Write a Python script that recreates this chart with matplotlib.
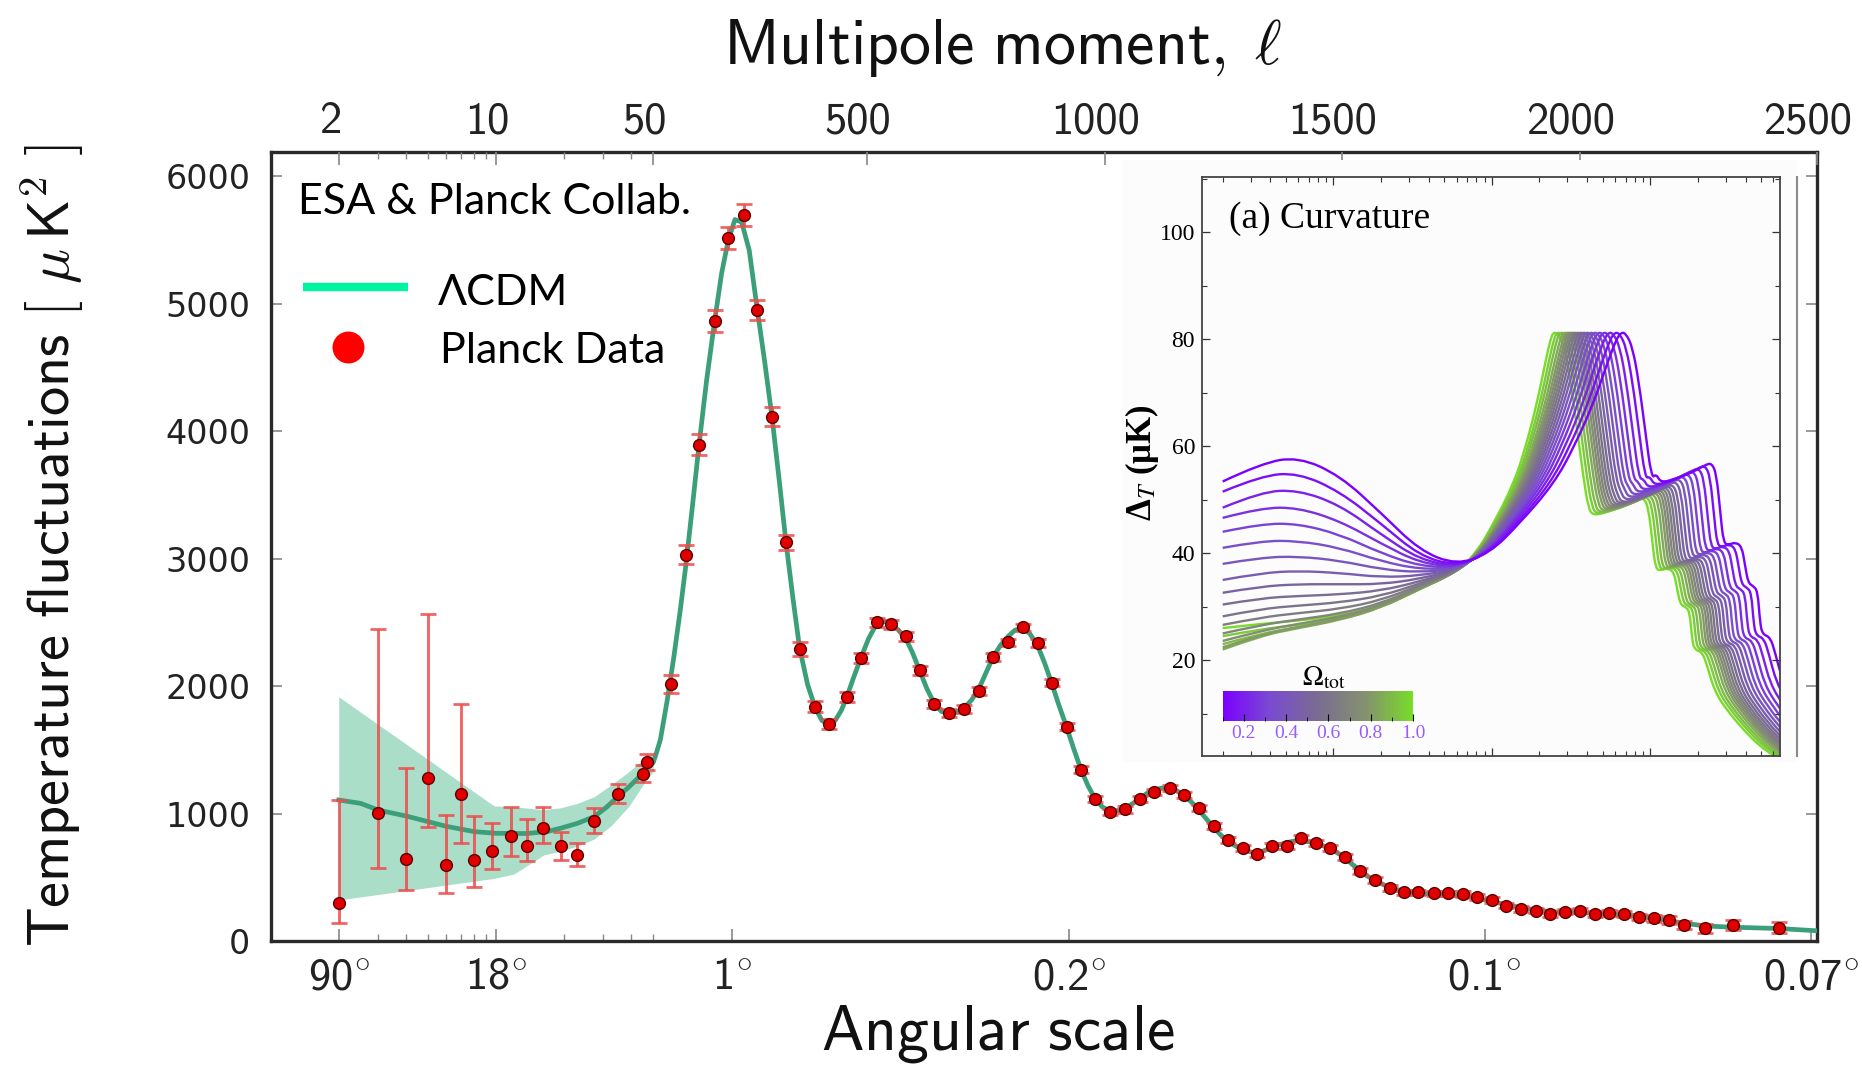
import numpy as np
import matplotlib
matplotlib.use('Agg')
import matplotlib.pyplot as plt
import matplotlib.lines as mlines
import matplotlib.patches as mpatches
from matplotlib.cm import ScalarMappable
from matplotlib.colors import LinearSegmentedColormap, Normalize
from matplotlib.path import Path
from matplotlib.transforms import ScaledTranslation
from matplotlib.ticker import FixedLocator, NullFormatter, MultipleLocator

plt.rcParams['mathtext.fontset'] = 'cm'

# ---------------- Planck TT power spectrum ----------------
planck_ell = [2, 3, 4, 5, 6, 7, 8, 9.6, 11.6, 13.7,
              16.2, 19.4, 22.8, 27.2, 34.8, 44.8, 47.0,
              87, 118, 146, 179, 208, 240, 268, 300, 329, 358,
              391, 419, 458, 487, 520, 550, 582, 611, 642, 673,
              705, 735, 765, 797, 828, 859, 889, 920, 950, 981,
              1012, 1044, 1075, 1105, 1137, 1168, 1198, 1230, 1260, 1291,
              1321, 1353, 1384, 1414, 1446, 1475, 1507, 1538, 1569, 1600,
              1630, 1661, 1693, 1723, 1754, 1784, 1816, 1846, 1877, 1909,
              1938, 1970, 2000, 2032, 2063, 2094, 2126, 2156, 2188, 2219,
              2265, 2323, 2419]
planck_dl = [296, 1004, 642, 1276, 597, 1153, 637, 707, 825, 749,
             886, 749, 671, 938, 1153, 1313, 1402,
             2015, 3030, 3894, 4864, 5514, 5694, 4950, 4113, 3129, 2289,
             1838, 1704, 1916, 2222, 2500, 2484, 2392, 2123, 1859, 1786,
             1817, 1961, 2230, 2343, 2460, 2340, 2026, 1681, 1345, 1114,
             1014, 1033, 1114, 1171, 1202, 1145, 1041, 904, 792, 732,
             685, 747, 747, 805, 771, 727, 661, 551, 478, 418,
             382, 382, 374, 374, 369, 343, 322, 277, 249, 238,
             212, 230, 238, 212, 222, 212, 191, 178, 165, 125,
             100, 128, 104]
# asymmetric errors of the 17 low-multipole points
lowl_err_minus = [155, 433, 241, 385, 217, 385, 210, 143, 162, 120,
                  118, 112, 81, 87, 73, 68, 62]
lowl_err_plus = [807, 1441, 716, 1292, 394, 708, 340, 218, 223, 208,
                 162, 110, 97, 105, 77, 67, 63]
# symmetric errors of the binned high-multipole points
highl_err = [70, 75, 80, 85, 85, 85, 80, 75, 60, 55,
             45, 40, 40, 38, 36, 35, 35, 34, 33, 32,
             31, 30, 30, 30, 30, 30, 29, 28, 27, 26,
             25, 25, 25, 25, 25, 25, 25, 24, 24, 24,
             24, 24, 24, 24, 23, 23, 23, 22, 22, 22,
             22, 22, 22, 22, 22, 22, 22, 22, 22, 22,
             22, 22, 22, 22, 22, 24, 24, 26, 28, 30,
             34, 38, 44]

# best-fit LCDM curve
lcdm_ell = [2, 2.5, 3, 4, 5, 6, 8, 10, 13.7, 17,
            19.4, 23, 27.3, 31, 34.7, 38.5, 42.3, 46, 50, 57,
            65, 79, 93, 107, 119, 133, 146, 162, 179, 194,
            208, 222, 236, 252, 268, 284, 300, 315, 329, 344,
            358, 375, 391, 405, 419, 433, 446, 458, 472, 487,
            503, 519, 535, 550, 566, 582, 596, 611, 626, 642,
            657, 673, 689, 705, 720, 735, 750, 765, 781, 797,
            812, 828, 843, 859, 874, 889, 904, 920, 935, 950,
            965, 981, 996, 1012, 1028, 1044, 1060, 1075, 1090, 1105,
            1121, 1137, 1152, 1168, 1183, 1198, 1214, 1230, 1245, 1260,
            1276, 1291, 1306, 1321, 1337, 1353, 1368, 1384, 1400, 1414,
            1430, 1446, 1460, 1475, 1491, 1507, 1522, 1538, 1553, 1569,
            1600, 1630, 1661, 1693, 1723, 1754, 1784, 1816, 1846, 1877,
            1909, 1938, 1970, 2000, 2032, 2063, 2094, 2126, 2156, 2188,
            2219, 2265, 2323, 2419, 2500]
lcdm_dl = [1106, 1080, 1027, 980, 936, 900, 858, 845, 843, 860,
           885, 923, 975, 1050, 1130, 1200, 1270, 1340, 1400, 1480,
           1580, 1880, 2220, 2600, 2960, 3430, 3880, 4390, 4860, 5240,
           5500, 5660, 5640, 5420, 4980, 4560, 4110, 3620, 3140, 2690,
           2300, 2010, 1830, 1730, 1700, 1730, 1810, 1920, 2070, 2220,
           2370, 2480, 2510, 2490, 2440, 2370, 2260, 2120, 1980, 1860,
           1800, 1785, 1795, 1830, 1890, 1975, 2100, 2225, 2320, 2390,
           2440, 2455, 2410, 2320, 2180, 2020, 1850, 1680, 1510, 1350,
           1220, 1110, 1050, 1020, 1020, 1040, 1080, 1120, 1160, 1185,
           1200, 1200, 1180, 1140, 1090, 1030, 960, 890, 830, 785,
           745, 715, 700, 690, 710, 735, 755, 772, 785, 788,
           778, 765, 748, 722, 690, 652, 600, 555, 510, 475,
           420, 390, 375, 368, 362, 352, 335, 310, 285, 262,
           243, 230, 225, 222, 218, 212, 205, 193, 178, 160,
           140, 118, 108, 98, 80]

# cosmic variance band at low multipoles
band_ell = [2, 9.8, 12, 16.3, 19.4, 23, 27.3, 32.5, 38.9, 46.6, 50]
band_hi = [1916, 1060, 1053, 1030, 1045, 1080, 1132, 1224, 1328, 1445, 1475]
band_lo = [322, 491, 525, 675, 705, 745, 800, 905, 1055, 1265, 1330]

top_ticks = [2, 10, 50, 500, 1000, 1500, 2000, 2500]
log_minor = [3, 4, 5, 6, 7, 8, 9, 20, 30, 40]
angle_pos = [2, 10, 216, 925, 1800, 2488]
angle_txt = ['90', '18', '1', '0.2', '0.1', '0.07']

# ---------------- curvature inset (Delta_T vs l) ----------------
omega_tot = [0.10, 0.15, 0.20, 0.25, 0.30, 0.35, 0.40, 0.45, 0.50, 0.55,
             0.60, 0.65, 0.70, 0.75, 0.80, 0.85, 0.90, 0.95, 1.00]
first_peak_ell = [658, 600, 548, 505, 470, 440, 415, 393, 374, 357,
                  342, 329, 317, 306, 295, 283, 270, 258, 245]
# height of the later acoustic features relative to the flat model
late_scale = [1.13, 1.12, 1.11, 1.10, 1.09, 1.08, 1.07, 1.06, 1.05, 1.045,
              1.04, 1.035, 1.03, 1.025, 1.02, 1.015, 1.01, 1.005, 1.0]
low_ell = [2, 3.5, 6, 11, 20, 35, 60]
low_dt = [
    [53.4, 56.8, 58.0, 54.5, 47.5, 40.5, 37.8],
    [51.5, 54.5, 55.0, 51.5, 45.5, 39.5, 37.6],
    [48.5, 51.5, 51.8, 49.0, 43.5, 38.8, 37.5],
    [46.6, 48.5, 48.5, 46.0, 41.8, 38.2, 37.4],
    [44.0, 45.5, 45.5, 43.5, 40.0, 37.6, 37.3],
    [41.0, 42.3, 42.3, 41.0, 38.5, 37.0, 37.2],
    [38.0, 39.2, 39.4, 38.6, 37.0, 36.4, 37.1],
    [35.0, 36.3, 36.7, 36.3, 35.5, 35.8, 37.0],
    [32.6, 33.8, 34.2, 34.2, 34.2, 35.2, 36.9],
    [30.4, 31.6, 32.0, 32.3, 33.0, 34.7, 36.8],
    [28.2, 29.6, 30.2, 30.8, 32.0, 34.3, 36.7],
    [26.6, 28.0, 28.8, 29.6, 31.2, 34.0, 36.6],
    [25.0, 26.6, 27.6, 28.7, 30.6, 33.7, 36.6],
    [23.6, 25.5, 26.8, 28.1, 30.2, 33.5, 36.5],
    [22.4, 24.8, 26.2, 27.7, 29.9, 33.4, 36.5],
    [22.0, 24.6, 26.0, 27.5, 29.8, 33.3, 36.5],
    [23.0, 25.0, 26.2, 27.6, 29.8, 33.3, 36.5],
    [24.5, 25.8, 26.6, 27.8, 29.9, 33.3, 36.5],
    [26.0, 26.8, 27.4, 28.3, 30.2, 33.5, 36.5],
]
# rise to the first peak, as fraction of the log distance from l=60 to the peak
rise_frac = [0.2, 0.38, 0.59, 0.715, 0.83, 0.92, 0.97, 1.0]
rise_dt = [40.0, 45.5, 53.0, 60.0, 68.0, 76.0, 80.0, 81.3]
# flat-model shape after the first peak, offset in log10(l / l_peak)
tail_offset = [0.03, 0.07, 0.11, 0.15, 0.19, 0.22, 0.25, 0.35, 0.45, 0.53,
               0.57, 0.60, 0.625, 0.645, 0.68, 0.72, 0.76, 0.78, 0.80, 0.83,
               0.86, 0.875, 0.89, 0.94, 0.97, 1.02, 1.10, 1.20, 1.30, 1.40]
tail_dt = [81.0, 78.5, 72.0, 63.0, 54.0, 48.5, 47.0, 47.8, 48.8, 50.0,
           50.3, 48.5, 42.0, 37.0, 36.8, 37.2, 36.5, 33.5, 30.5, 30.0,
           29.2, 24.0, 22.0, 21.5, 19.0, 14.0, 10.5, 7.0, 4.0, 2.0]


# multipole axis: logarithmic below l=50, linear above
SPLIT = 50.0
PER_DECADE = 473.7


def fwd(l):
    l = np.asarray(l, dtype=float)
    return np.where(l > SPLIT, l - SPLIT,
                    PER_DECADE * np.log10(np.clip(l, 1e-6, None) / SPLIT))


def inv(u):
    u = np.asarray(u, dtype=float)
    return np.where(u > 0, u + SPLIT,
                    SPLIT * 10 ** (np.clip(u, None, 0) / PER_DECADE))


def curve_path(x, y):
    # quadratic bezier through the knot midpoints (midpoints taken in log l)
    lx = np.log10(x)
    verts = [(x[0], y[0])]
    codes = [Path.MOVETO]
    for i in range(1, len(x) - 1):
        verts += [(x[i], y[i]),
                  (10 ** ((lx[i] + lx[i + 1]) / 2), (y[i] + y[i + 1]) / 2)]
        codes += [Path.CURVE3, Path.CURVE3]
    verts.append((x[-1], y[-1]))
    codes.append(Path.LINETO)
    return Path(verts, codes)


fig = plt.figure(figsize=(18.62, 10.67), dpi=100)
ax = fig.add_axes([0.14554, 0.11809, 0.83029, 0.73946])
ax.set_xscale('function', functions=(fwd, inv))

ax.fill_between(band_ell, band_lo, band_hi, color='#aadec8', lw=0, zorder=1)
ax.plot(lcdm_ell, lcdm_dl, color='#3b9f7a', lw=3.4, zorder=3)

err_minus = lowl_err_minus + highl_err
err_plus = lowl_err_plus + highl_err
ax.errorbar(planck_ell, planck_dl, yerr=[err_minus, err_plus], fmt='none',
            ecolor='#ec4c4c', elinewidth=2.1, capsize=6, capthick=2.0,
            alpha=0.85, zorder=4)
ax.plot(planck_ell, planck_dl, 'o', ms=8.5, mfc='#e00000', mec='#5a0000',
        mew=1.0, zorder=5)

ax.set_xlim(1.0, 2500)
ax.set_ylim(0, 6190)

for s in ax.spines.values():
    s.set_linewidth(2.4)
    s.set_color('#2a2a2a')

tick_font = 'cmss10'
ax.set_xticks(angle_pos, labels=[a + r'$^{\circ}$' for a in angle_txt],
              fontfamily=tick_font)
ax.xaxis.set_minor_locator(FixedLocator(log_minor + [50]))
ax.xaxis.set_minor_formatter(NullFormatter())
ax.tick_params(axis='x', which='major', direction='in', length=9, width=1.2,
               color='#888888', labelsize=32, pad=12, labelcolor='#222222')
ax.tick_params(axis='x', which='minor', direction='in', length=5, width=1.0,
               color='#888888')
ax.set_yticks(range(0, 7000, 1000))
ax.tick_params(axis='y', direction='in', left=True, right=True, length=8,
               width=1.2, color='#888888', labelsize=24, pad=15,
               labelcolor='#222222')

ax2 = ax.twiny()
ax2.set_xscale('function', functions=(fwd, inv))
ax2.set_xlim(ax.get_xlim())
ax2.set_xticks(top_ticks, labels=[str(t) for t in top_ticks],
               fontfamily=tick_font)
ax2.xaxis.set_minor_locator(FixedLocator(log_minor))
ax2.xaxis.set_minor_formatter(NullFormatter())
ax2.tick_params(axis='x', which='major', direction='in', length=9, width=1.2,
                color='#888888', labelsize=32, pad=7, labelcolor='#222222')
ax2.tick_params(axis='x', which='minor', direction='in', length=5, width=1.0,
                color='#888888')
for s in ax2.spines.values():
    s.set_visible(False)
# top labels sit a little left of their ticks
shift = ScaledTranslation(-9 / 100, 0, fig.dpi_scale_trans)
for lab in ax2.get_xticklabels():
    lab.set_transform(lab.get_transform() + shift)

fig.text(0.5387, 0.940, r'$\mathsf{Multipole\ moment,}\;\ell$',
         ha='center', va='baseline', fontsize=46, color='#111111')
fig.text(0.5358, 0.016, r'$\mathsf{Angular\ scale}$',
         ha='center', va='baseline', fontsize=46, color='#111111')
fig.text(0.028, 0.4883,
         r'$\mathsf{Temperature\ fluctuations\ [\ }\mu\,\mathsf{K}^{2}\mathsf{\ ]}$',
         rotation=90, ha='center', va='center', fontsize=42, color='#111111')

# key in the upper left corner
legend_font = ['Lato', 'DejaVu Sans']
ax.text(0.0177, 0.921, 'ESA & Planck Collab.', transform=ax.transAxes,
        fontsize=31, family=legend_font, ha='left', va='baseline')
ax.plot([0.0208, 0.0887], [0.8293, 0.8293], transform=ax.transAxes,
        color='#00f5a0', lw=6, solid_capstyle='butt', zorder=6)
ax.text(0.108, 0.8061, 'ΛCDM', transform=ax.transAxes,
        fontsize=31, family=legend_font, ha='left', va='baseline')
ax.plot([0.050], [0.7525], 'o', transform=ax.transAxes, ms=23,
        color='#ff0000', mec='none', zorder=6)
ax.text(0.109, 0.733, 'Planck Data', transform=ax.transAxes,
        fontsize=31, family=legend_font, ha='left', va='baseline')

# ---------------- inset ----------------
fig.add_artist(mpatches.Rectangle((1122 / 1862, 1 - 762 / 1067),
                                  (1797 - 1122) / 1862, (762 - 160) / 1067,
                                  transform=fig.transFigure,
                                  facecolor='#fbfcfb', edgecolor='none',
                                  zorder=1))
fig.add_artist(mlines.Line2D([1797 / 1862] * 2, [1 - 177 / 1067, 1 - 756 / 1067],
                             transform=fig.transFigure, color='#8a8a8a',
                             lw=1.5, zorder=3))

ins = fig.add_axes([1202 / 1862, 1 - 756 / 1067, 578 / 1862, 579 / 1067],
                   zorder=2)
ins.set_facecolor('#fbfcfb')
ins.set_xscale('log')
ins.set_xlim(1.48, 6600)
ins.set_ylim(2.1, 110.3)

cmap = LinearSegmentedColormap.from_list(
    'omega', ['#7b00ff', '#7a4bd0', '#7a6c92', '#85916f', '#78dc28'])
norm = Normalize(0.1, 1.0)

offs = np.array(tail_offset)
for k in reversed(range(len(omega_tot))):
    pk = first_peak_ell[k]
    late = np.where(offs >= 0.2, late_scale[k], 1.0)
    ell = np.concatenate([low_ell,
                          60.0 * (pk / 60.0) ** np.array(rise_frac),
                          pk * 10 ** offs])
    dt = np.concatenate([low_dt[k], rise_dt, np.array(tail_dt) * late])
    ins.add_patch(mpatches.PathPatch(curve_path(ell, dt), facecolor='none',
                                     edgecolor=cmap(norm(omega_tot[k])),
                                     lw=1.7))

ins.set_yticks([20, 40, 60, 80, 100])
ins.yaxis.set_minor_locator(MultipleLocator(10))
ins.tick_params(which='both', direction='in', top=True, right=True,
                labelbottom=False, color='#333333')
ins.tick_params(which='major', length=6, width=0.9)
ins.tick_params(which='minor', length=3.5, width=0.8)
ins.tick_params(axis='y', labelsize=17, pad=5,
                labelfontfamily='Liberation Serif')
for s in ins.spines.values():
    s.set_linewidth(1.3)
    s.set_color('#444444')

ins.text(0.047, 0.928, '(a) Curvature', transform=ins.transAxes,
         family='Liberation Serif', fontsize=27, ha='left', va='center')
ins.text(-0.104, 0.506, 'Δ$_{T}$ (μK)', transform=ins.transAxes,
         family='Liberation Serif', fontweight='bold', fontsize=25,
         rotation=90, ha='center', va='center', math_fontfamily='stix')

cax = ins.inset_axes([0.036, 0.0605, 0.329, 0.052])
cb = fig.colorbar(ScalarMappable(norm=norm, cmap=cmap), cax=cax,
                  orientation='horizontal')
cb.set_ticks([0.2, 0.4, 0.6, 0.8, 1.0], labels=['0.2', '0.4', '0.6', '0.8', '1.0'])
cb.ax.xaxis.set_minor_locator(FixedLocator([0.1, 0.3, 0.5, 0.7, 0.9]))
cb.ax.tick_params(which='both', direction='in', color='black', labelsize=14,
                  labelcolor='#9a5cff', pad=3, labelfontfamily='Liberation Serif')
cb.ax.tick_params(which='major', length=5)
cb.ax.tick_params(which='minor', length=3)
cb.outline.set_visible(False)
ins.text(0.211, 0.136, r'$\Omega_{\rm tot}$', transform=ins.transAxes,
         ha='center', va='center', fontsize=20, math_fontfamily='stix')

fig.savefig('out.png', dpi=100)
